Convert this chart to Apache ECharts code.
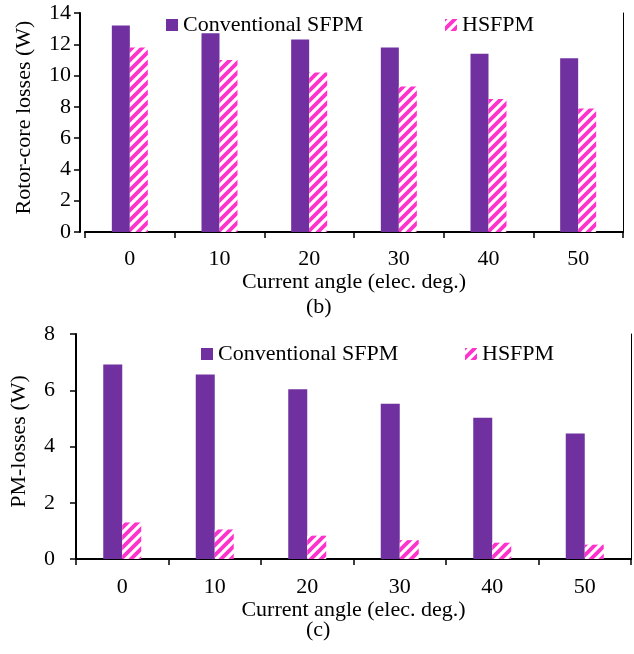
<!DOCTYPE html>
<html><head><meta charset="utf-8">
<script src="https://cdn.jsdelivr.net/npm/echarts@6/dist/echarts.min.js"></script>
<style>html,body{margin:0;padding:0;background:#fff}#c{width:634px;height:654px}</style>
</head><body><div id="c"></div>
<script>
var categories = ['0', '10', '20', '30', '40', '50'];
var rotorConv = [13.2, 12.7, 12.3, 11.8, 11.4, 11.1];
var rotorHS = [11.8, 11.0, 10.2, 9.3, 8.5, 7.9];
var pmConv = [6.92, 6.56, 6.04, 5.52, 5.02, 4.46];
var pmHS = [1.30, 1.05, 0.83, 0.67, 0.58, 0.51];
var rotorTicks = [0, 2, 4, 6, 8, 10, 12, 14];
var pmTicks = [0, 2, 4, 6, 8];

var PURPLE = '#7030A0', PINK = '#FF33CC';
var FONT = 'Liberation Serif';
function hatch() {
  var s = 10;
  var c = document.createElement('canvas');
  c.width = s; c.height = s;
  var g = c.getContext('2d');
  g.fillStyle = '#fff'; g.fillRect(0, 0, s, s);
  g.strokeStyle = PINK; g.lineWidth = 3.8;
  g.beginPath();
  g.moveTo(-s / 2, s / 2); g.lineTo(s / 2, -s / 2);
  g.moveTo(0, s); g.lineTo(s, 0);
  g.moveTo(s / 2, s * 1.5); g.lineTo(s * 1.5, s / 2);
  g.stroke();
  return c;
}
var pat = { image: hatch(), repeat: 'repeat' };
var chart = echarts.init(document.getElementById('c'), null, { renderer: 'canvas' });
function legend(name, left, top) {
  return { data: [name], left: left, top: top, padding: 0, itemWidth: 12, itemHeight: 12, itemGap: 0,
    icon: 'rect', textStyle: { fontFamily: FONT, fontSize: 22, color: '#000', lineHeight: 22 }, selectedMode: false };
}
function xAx(gi, margin, gap) {
  return { type: 'category', gridIndex: gi, data: categories,
    axisLine: { lineStyle: { color: '#000', width: 2 } },
    axisTick: { show: true, length: 6, lineStyle: { color: '#000', width: 1.5 } },
    axisLabel: { fontFamily: FONT, fontSize: 22, color: '#000', margin: margin },
    name: 'Current angle (elec. deg.)', nameLocation: 'middle', nameGap: gap,
    nameTextStyle: { fontFamily: FONT, fontSize: 22, color: '#000' } };
}
function xTop(gi) {
  return { type: 'category', gridIndex: gi, data: categories, position: 'top',
    axisLine: { lineStyle: { color: '#000', width: 1 } }, axisTick: { show: false }, axisLabel: { show: false } };
}
function yAx(gi, max, interval, name, margin, gap, offset) {
  return { type: 'value', gridIndex: gi, min: 0, max: max, interval: interval, offset: offset,
    axisLine: { show: true, lineStyle: { color: '#000', width: 2 } },
    axisTick: { show: true, length: 6, lineStyle: { color: '#000', width: 1.5 } },
    splitLine: { show: false },
    axisLabel: { fontFamily: FONT, fontSize: 22, color: '#000', margin: margin },
    name: name, nameLocation: 'middle', nameGap: gap,
    nameTextStyle: { fontFamily: FONT, fontSize: 22, color: '#000', padding: [0, 0, 0, 10] } };
}
function yRight(gi, max, interval) {
  return { type: 'value', gridIndex: gi, min: 0, max: max, interval: interval, position: 'right',
    axisLine: { show: true, lineStyle: { color: '#000', width: 1 } }, axisTick: { show: false },
    axisLabel: { show: false }, splitLine: { show: false } };
}
chart.setOption({
  animation: false,
  backgroundColor: '#fff',
  title: [
    { text: '(b)', left: 306, top: 296, textStyle: { fontFamily: FONT, fontSize: 22, fontWeight: 'normal', color: '#000' }, padding: 0 },
    { text: '(c)', left: 306, top: 619, textStyle: { fontFamily: FONT, fontSize: 22, fontWeight: 'normal', color: '#000' }, padding: 0 }
  ],
  legend: [
    legend('Conventional SFPM', 166, 14),
    legend('HSFPM', 445, 14),
    legend('Conventional SFPM', 201, 343),
    legend('HSFPM', 465, 343)
  ],
  grid: [
    { left: 85, right: 11, top: 13, height: 219 },
    { left: 67, right: 3, top: 334, height: 225 }
  ],
  xAxis: [xAx(0, 16, 37), xAx(1, 17, 40), xTop(0), xTop(1)],
  yAxis: [
    yAx(0, 14, 2, 'Rotor-core losses (W)', 9, 45, 5),
    yAx(1, 8, 2, 'PM-losses (W)', 21, 46, 0),
    yRight(0, 14, 2), yRight(1, 8, 2)
  ],
  series: [
    { name: 'Conventional SFPM', type: 'bar', xAxisIndex: 0, yAxisIndex: 0, data: rotorConv, barWidth: 18, barGap: '0%', itemStyle: { color: PURPLE } },
    { name: 'HSFPM', type: 'bar', xAxisIndex: 0, yAxisIndex: 0, data: rotorHS, barWidth: 18, barGap: '0%', itemStyle: { color: pat } },
    { name: 'Conventional SFPM', type: 'bar', xAxisIndex: 1, yAxisIndex: 1, data: pmConv, barWidth: 19, barGap: '0%', itemStyle: { color: PURPLE } },
    { name: 'HSFPM', type: 'bar', xAxisIndex: 1, yAxisIndex: 1, data: pmHS, barWidth: 19, barGap: '0%', itemStyle: { color: pat } }
  ]
});
</script></body></html>
